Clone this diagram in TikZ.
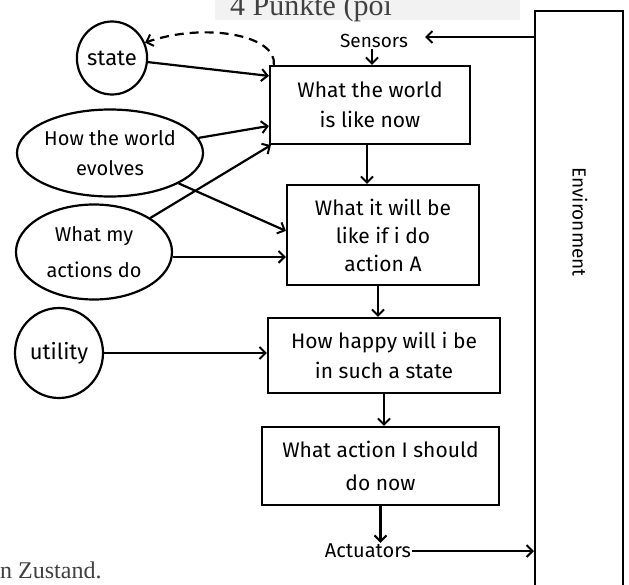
\documentclass[tikz,border=0pt]{standalone}
\usepackage{fontspec}
\setmainfont{Fira Sans}
\newfontfamily\scanfont{Liberation Serif}
\usetikzlibrary{arrows.meta,shapes.geometric}
\begin{document}
\begin{tikzpicture}[x=1pt,y=-1pt,
  box/.style={draw,line width=2.2pt,inner sep=0pt,font=\fontsize{21}{30}\selectfont,align=center},
  blob/.style={draw,ellipse,line width=2.2pt,inner sep=0pt,font=\fontsize{20}{30}\selectfont,align=center},
  lbl/.style={font=\fontsize{19}{22}\selectfont,inner sep=1pt},
  arr/.style={-{Straight Barb[length=6pt,width=12pt,line width=2pt]},line width=2.2pt},
  scan/.style={text=black!75,inner sep=0pt},
]
\useasboundingbox (0,0) rectangle (629,584);
\clip (0,0) rectangle (629,584);
\fill[black!5] (215,0) rectangle (520,20);
\node[scan,anchor=base west,font=\scanfont\fontsize{30}{32}\selectfont] (hdr) at (230,15) {4 Punkte (poi};
\node[scan,anchor=base west,font=\scanfont\fontsize{24}{26}\selectfont] (ftr) at (0,578) {n Zustand.};

% environment
\node[draw,line width=2.2pt,minimum width=88pt,minimum height=600pt,anchor=north west,inner sep=0pt] (env) at (534,10) {};
\node[lbl,rotate=-90] (envlbl) at (580,222) {Environment};

% boxes
\node[box,minimum width=200pt,minimum height=78pt] (b1) at (370,105) {What the world\\ is like now};
\node[box,minimum width=192pt,minimum height=100pt,font=\fontsize{21}{28}\selectfont] (b2) at (383,235) {What it will be\\ like if i do\\ action A};
\node[box,minimum width=232pt,minimum height=75pt] (b3) at (384,355.5) {How happy will i be\\ in such a state};
\node[box,minimum width=237pt,minimum height=78pt,font=\fontsize{21}{33}\selectfont] (b4) at (380.5,466) {What action I should\\ do now};

% ellipses
\node[blob,minimum width=70pt,minimum height=73pt,font=\fontsize{22}{26}\selectfont] (state) at (112,58) {state};
\node[blob,minimum width=166pt,minimum height=87pt] (evol) at (110,153) {How the world\\ evolves};
\node[blob,minimum width=156pt,minimum height=95pt,font=\fontsize{20}{36}\selectfont] (act) at (94,252) {What my\\ actions do};
\node[blob,minimum width=88pt,minimum height=90pt,font=\fontsize{22}{26}\selectfont] (util) at (59,353) {utility};

% sensors / actuators
\node[lbl] (sens) at (374,41) {Sensors};
\node[lbl,font=\fontsize{20}{24}\selectfont] (actu) at (368,551) {Actuators};
\coordinate (senstip) at (425,37);
\coordinate (s1) at ([xshift=-2pt]sens.south);
\coordinate (c12) at ([xshift=-3pt]b1.south);
\coordinate (c23) at ([xshift=-5pt]b2.south);
\coordinate (a2) at ([yshift=-73pt]b2.north west);

% connectors
\draw[arr] (env.west |- senstip) -- (senstip);
\draw[arr] (s1) -- (b1.north -| s1);
\draw[arr] (state) -- ([yshift=-11pt]b1.north west);
\draw[arr] (evol) -- ([yshift=-61pt]b1.north west);
\draw[arr] (evol) -- ([yshift=-47pt]b2.north west);
\draw[arr] (act) -- ([xshift=2pt]b1.south west);
\draw[arr] (act.east |- a2) -- (a2);
\draw[arr] (util) -- (util -| b3.west);
\draw[arr] (c12) -- (b2.north -| c12);
\draw[arr] (c23) -- (b3.north -| c23);
\draw[arr] (b3.south) -- (b4.north -| b3.south);
\draw[arr] (b4.south) -- (actu.north -| b4.south);
\draw[arr] (actu.east) -- (env.west |- actu.east);
\draw[arr,dashed,dash pattern=on 9pt off 6pt] ([xshift=5pt]b1.north west) .. controls (277,35) and (205,22) .. (state.25);
\end{tikzpicture}
\end{document}
